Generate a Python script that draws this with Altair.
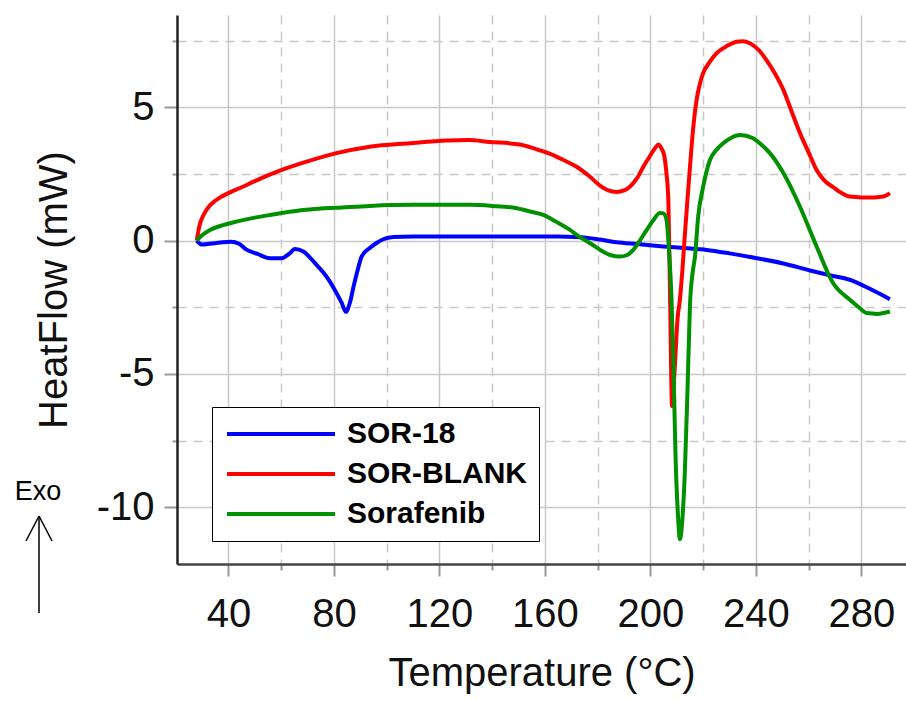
import altair as alt
import pandas as pd

FONT = "Liberation Sans"

series_names = ["SOR-18", "SOR-BLANK", "Sorafenib"]
series_colors = ["#0000FF", "#FF0000", "#009000"]

temp_sor18 = [28, 30, 33, 37, 41, 44, 47, 51, 55.7, 60.2, 63, 65.2, 68.4, 71, 73.4, 77.2, 81, 83, 84.5,
              86, 87.5, 89, 90.5, 93.6, 96, 98.7, 102.5, 110, 130, 150, 165, 172, 180, 187.2, 195, 204.9,
              213, 221.3, 230, 240.3, 250, 260.5, 268, 275.6, 283, 290.8]
hf_sor18 = [0, -0.15, -0.12, -0.07, -0.04, -0.12, -0.35, -0.5, -0.66, -0.66, -0.5, -0.32, -0.41, -0.65,
            -0.91, -1.35, -1.97, -2.35, -2.67, -2.35, -1.7, -1.1, -0.6, -0.28, -0.1, 0.05, 0.13, 0.15, 0.15,
            0.15, 0.15, 0.13, 0.05, -0.06, -0.13, -0.22, -0.28, -0.35, -0.48, -0.66, -0.85, -1.12, -1.3,
            -1.47, -1.8, -2.2]

temp_blank = [28, 29, 30.5, 32, 35.5, 40, 45, 50, 59.5, 68.4, 81, 93.6, 108.8, 122.7, 131, 139, 150.5,
              156, 162, 167, 172, 177, 181, 184, 187.2, 190, 192.2, 195, 197.3, 200, 202, 203, 204.2,
              205.2, 206, 206.8, 207.5, 208.2, 209.2, 210.3, 211.2, 212.2, 213.1, 214, 215, 216.2, 217.5,
              218.8, 220, 222.5, 225.1, 229, 232.7, 235, 237.7, 241, 244, 247, 250.4, 253.5, 256.7, 260,
              263, 266, 269.3, 272.5, 275.6, 280, 285, 288.3, 290.8]
hf_blank = [0, 0.55, 0.95, 1.2, 1.53, 1.78, 2.0, 2.23, 2.62, 2.92, 3.28, 3.52, 3.65, 3.75, 3.77, 3.7, 3.6,
            3.45, 3.25, 3.02, 2.77, 2.4, 2.05, 1.88, 1.82, 1.88, 2.02, 2.35, 2.77, 3.2, 3.5, 3.6, 3.45,
            3.2, 2.6, 1.5, -2.5, -6.2, -4.8, -2.9, -2.2, -1.0, 0.28, 1.5, 2.77, 4.2, 5.27, 5.9, 6.28,
            6.7, 7.03, 7.3, 7.46, 7.48, 7.4, 7.15, 6.77, 6.3, 5.65, 4.85, 4.03, 3.3, 2.65, 2.25, 2.0,
            1.78, 1.65, 1.62, 1.62, 1.65, 1.78]

temp_sora = [28, 30, 33, 38, 43, 50, 55.7, 62, 68.4, 75, 81, 93.6, 110, 131.5, 140, 149.3, 154, 159.4,
             164, 169.5, 173, 177.1, 181, 184.7, 188.5, 191, 193.5, 196, 198.6, 201, 203.6, 205, 206.1,
             207, 208, 208.8, 209.5, 210.5, 211.2, 212, 213, 214, 215, 216, 216.9, 218.1, 220, 222.6,
             225, 227.6, 230.5, 233.9, 238.9, 242, 245.3, 250.4, 256.7, 263, 269.3, 275.6, 279, 282,
             286, 290.8]
hf_sora = [0, 0.2, 0.4, 0.58, 0.71, 0.86, 0.96, 1.06, 1.15, 1.2, 1.23, 1.3, 1.34, 1.34, 1.3, 1.21, 1.1,
           0.96, 0.72, 0.4, 0.15, -0.1, -0.35, -0.54, -0.6, -0.55, -0.35, 0.0, 0.4, 0.75, 1.03, 1.02,
           0.78, -0.3, -2.2, -5.0, -8.0, -10.4, -11.2, -10.6, -8.8, -5.8, -2.4, -1.2, -0.6, 0.9, 2.02,
           3.03, 3.4, 3.65, 3.85, 3.96, 3.84, 3.6, 3.28, 2.53, 1.27, -0.22, -1.6, -2.22, -2.5, -2.72,
           -2.75, -2.66]

x_major = [40, 80, 120, 160, 200, 240, 280]
x_minor = [60, 100, 140, 180, 220, 260]
y_major = [-10, -5, 0, 5]
y_minor = [-7.5, -2.5, 2.5, 7.5]

rows = []
for name, ts, vs in [("SOR-18", temp_sor18, hf_sor18),
                     ("SOR-BLANK", temp_blank, hf_blank),
                     ("Sorafenib", temp_sora, hf_sora)]:
    for i, (t, v) in enumerate(zip(ts, vs)):
        rows.append({"series": name, "temp": t, "hf": v, "idx": i})
df = pd.DataFrame(rows)

xscale = alt.Scale(domain=[20.5, 296.9], nice=False, zero=False)
yscale = alt.Scale(domain=[-12.13, 8.46], nice=False, zero=False)

GRID = "#C8C8C8"
TICK = "#999999"

minor = alt.Chart(df).mark_line(opacity=0).encode(
    x=alt.X("temp:Q", scale=xscale,
            axis=alt.Axis(orient="bottom", values=x_minor, labels=False, domain=False,
                          tickSize=6, tickColor=TICK, tickWidth=2,
                          grid=True, gridColor=GRID, gridWidth=1.5, gridDash=[9, 7], title=None)),
    y=alt.Y("hf:Q", scale=yscale,
            axis=alt.Axis(orient="left", values=y_minor, labels=False, domain=False,
                          tickSize=5, tickColor=TICK, tickWidth=2,
                          grid=True, gridColor=GRID, gridWidth=1.5, gridDash=[9, 7], title=None)),
    detail="series:N",
    order="idx:Q",
)

lines = alt.Chart(df).mark_line(strokeWidth=4, interpolate="monotone").encode(
    x=alt.X("temp:Q", scale=xscale,
            axis=alt.Axis(orient="bottom", values=x_major, title="Temperature (°C)",
                          domain=True, domainColor="#444444", domainWidth=2.5,
                          tickSize=12, tickColor=TICK, tickWidth=2,
                          grid=True, gridColor=GRID, gridWidth=1.5,
                          labelFont=FONT, labelFontSize=40, labelColor="#111111", labelPadding=18,
                          titleFont=FONT, titleFontSize=40, titleFontWeight="normal",
                          titleColor="#111111", titlePadding=19)),
    y=alt.Y("hf:Q", scale=yscale,
            axis=alt.Axis(orient="left", values=y_major, title="HeatFlow (mW)",
                          labelExpr="'' + datum.value",
                          domain=True, domainColor="#222222", domainWidth=2.5,
                          tickSize=13, tickColor=TICK, tickWidth=2,
                          grid=True, gridColor=GRID, gridWidth=1.5,
                          labelFont=FONT, labelFontSize=40, labelColor="#111111", labelPadding=10,
                          titleFont=FONT, titleFontSize=40, titleFontWeight="normal",
                          titleColor="#111111", titlePadding=22)),
    color=alt.Color("series:N", title=None, sort=series_names,
                    scale=alt.Scale(domain=series_names, range=series_colors),
                    legend=alt.Legend(orient="none", legendX=35, legendY=392,
                                      symbolType="M-1.2,0H9.6", symbolSize=400, symbolStrokeWidth=4,
                                      labelFont=FONT, labelFontSize=30, labelFontWeight="bold",
                                      labelColor="black", labelOffset=93, labelLimit=400,
                                      padding=12, rowPadding=10,
                                      strokeColor="black", fillColor="white", cornerRadius=0)),
    order="idx:Q",
)

anno = alt.Data(values=[{"a": 1}])
exo = alt.Chart(anno).mark_text(text="Exo", font=FONT, fontSize=27, color="black",
                                align="center", baseline="middle").encode(
    x=alt.value(-139), y=alt.value(477))
shaft = alt.Chart(anno).mark_rule(color="black", strokeWidth=1.5).encode(
    x=alt.value(-138), y=alt.value(501), y2=alt.value(598))
arm1 = alt.Chart(anno).mark_rule(color="black", strokeWidth=1.5).encode(
    x=alt.value(-138), y=alt.value(501), x2=alt.value(-151), y2=alt.value(526))
arm2 = alt.Chart(anno).mark_rule(color="black", strokeWidth=1.5).encode(
    x=alt.value(-138), y=alt.value(501), x2=alt.value(-125), y2=alt.value(526))

chart = alt.layer(minor, lines, exo, shaft, arm1, arm2).resolve_axis(
    x="independent", y="independent"
).properties(
    width=729, height=549,
    autosize=alt.AutoSizeParams(type="none"),
    padding={"left": 177, "top": 15, "right": 0, "bottom": 137},
    background="white",
).configure_view(strokeWidth=0)

chart.save("out.html", embed_options={"renderer": "svg", "actions": False})
